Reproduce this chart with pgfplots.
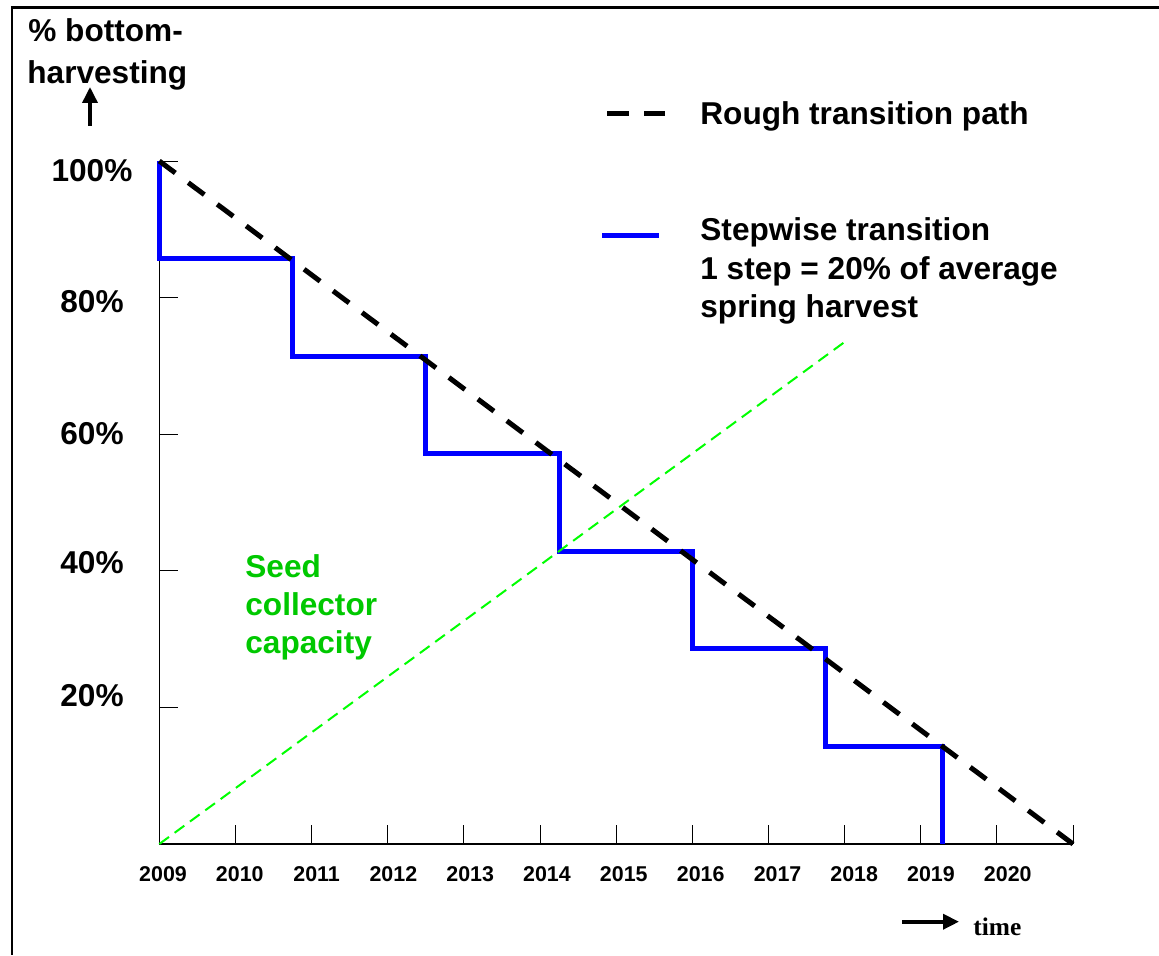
\documentclass[border=0pt]{standalone}
\usepackage{fontspec}
\setmainfont{Liberation Sans}
\newfontfamily\timesfont{Liberation Serif}
\usepackage{pgfplots}
\pgfplotsset{compat=1.18}
\usetikzlibrary{arrows.meta}
\definecolor{lblue}{RGB}{0,0,255}
\definecolor{lgreen}{RGB}{0,255,0}
\definecolor{tgreen}{RGB}{0,200,0}
\newcommand\Lfont{\fontsize{15.8}{19}\selectfont\bfseries}
\newcommand\Xfont{\fontsize{10.7}{12}\selectfont\bfseries}
\begin{document}
\begin{tikzpicture}
\useasboundingbox (-79.65pt,-55.5pt) rectangle (499.85pt,422pt);
\begin{axis}[
  at={(0pt,0pt)}, anchor=south west,
  scale only axis, width=456.85pt, height=341.5pt,
  xmin=2009, xmax=2021, ymin=0, ymax=100,
  axis x line=bottom, axis y line=left,
  axis line style={-, line width=0.7pt, black},
  xtick={2009,2010,2011,2012,2013,2014,2015,2016,2017,2018,2019,2020,2021},
  xticklabels={,,,,,,,,,,,,},
  ytick={20,40,60,80,100},
  yticklabels={,,,,},
  tick align=inside, major tick length=9.5pt,
  tick style={line width=0.5pt, black},
  extra x ticks={2009.049,2010.057,2011.066,2012.074,2013.083,2014.091,2015.10,2016.11,2017.12,2018.126,2019.134,2020.143},
  extra x tick labels={2009,2010,2011,2012,2013,2014,2015,2016,2017,2018,2019,2020},
  extra x tick style={major tick length=0pt, grid=none,
    xticklabel style={anchor=center, yshift=-15.25pt, font=\Xfont, inner sep=0pt}},
  extra y ticks={98.6,79.4,60.1,41.2,21.7},
  extra y tick labels={100\%,80\%,60\%,40\%,20\%},
  extra y tick style={major tick length=0pt, grid=none,
    yticklabel style={anchor=center, xshift=-33.65pt, font=\Lfont, inner sep=0pt}},
  clip=false,
]
\addplot[lblue, line width=2.5pt, line join=miter] coordinates {
  (2009,100) (2009,85.71) (2010.75,85.71) (2010.75,71.43) (2012.5,71.43)
  (2012.5,57.14) (2014.25,57.14) (2014.25,42.86) (2016,42.86) (2016,28.57)
  (2017.75,28.57) (2017.75,14.29) (2019.29,14.29) (2019.29,0)};
\addplot[black, line width=2.5pt, dash pattern=on 10pt off 8.08pt] coordinates {(2009,100) (2021,0)};
\addplot[lgreen, line width=1pt, dash pattern=on 6pt off 3.5pt] coordinates {(2009,0) (2018,73.5)};
\end{axis}
\begin{scope}[x=0.5pt,y=-0.5pt,shift={(-79.65pt,422pt)}]
  % frame
  \draw[line width=1.5pt] (11,8) -- (1159,8);
  \draw[line width=1pt] (12,8) -- (12,955);
  % y title
  \node[anchor=base west, inner sep=0pt, font=\Lfont] at (28,42) {\% bottom-};
  \node[anchor=base west, inner sep=0pt, font=\Lfont] at (27,84) {harvesting};
  \draw[line width=1.8pt, -{Triangle[length=8pt,width=7.5pt]}] (90,126) -- (90,87);
  % x title
  \draw[line width=1.8pt, -{Triangle[length=8pt,width=7.5pt]}] (902,921.7) -- (959,921.7);
  \node[anchor=base west, inner sep=0pt, font=\timesfont\fontsize{12.7}{15}\selectfont\bfseries] at (973,935) {time};
  % legend
  \draw[line width=2.5pt, dash pattern=on 11pt off 7.5pt] (607,113.5) -- (665,113.5);
  \node[anchor=base west, inner sep=0pt, font=\Lfont] at (700,125) {Rough transition path};
  \draw[lblue, line width=2.5pt] (602,235.7) -- (659,235.7);
  \node[anchor=base west, inner sep=0pt, font=\Lfont] at (700,240) {Stepwise transition};
  \node[anchor=base west, inner sep=0pt, font=\Lfont] at (700,279) {1 step = 20\% of average};
  \node[anchor=base west, inner sep=0pt, font=\Lfont] at (700,317) {spring harvest};
  % seed collector
  \node[anchor=base west, inner sep=0pt, font=\Lfont, text=tgreen] at (245,577) {Seed};
  \node[anchor=base west, inner sep=0pt, font=\Lfont, text=tgreen] at (245,615) {collector};
  \node[anchor=base west, inner sep=0pt, font=\Lfont, text=tgreen] at (245,653) {capacity};
\end{scope}
\end{tikzpicture}
\end{document}
